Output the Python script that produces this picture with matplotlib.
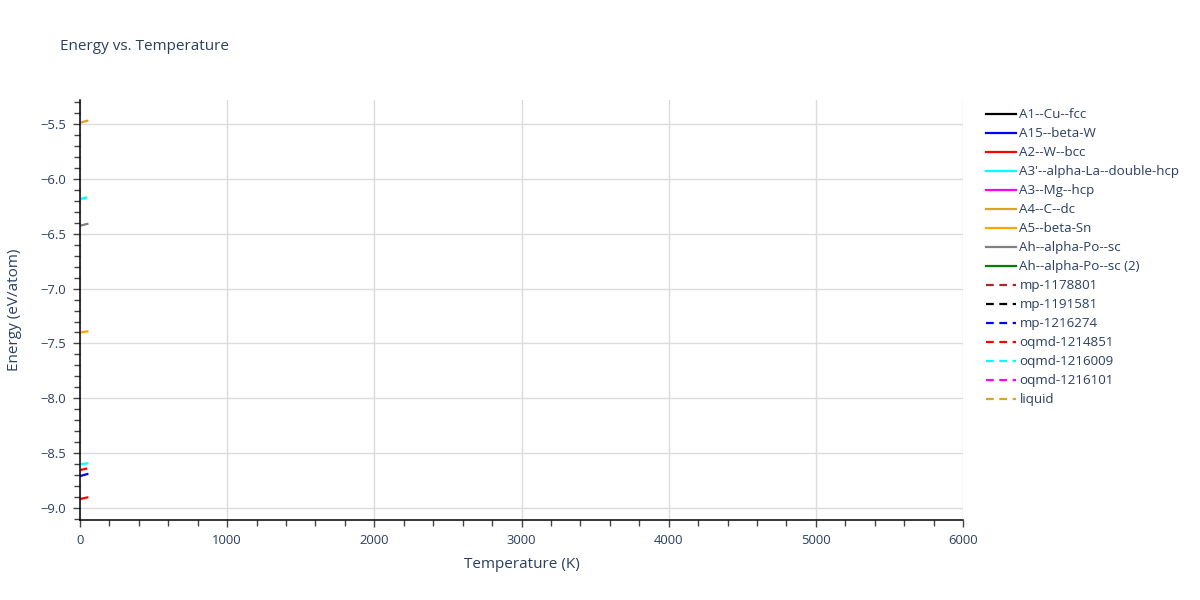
import matplotlib

matplotlib.use("Agg")
import matplotlib.pyplot as plt
from matplotlib.ticker import MultipleLocator

plt.rcParams["font.family"] = ["Open Sans", "DejaVu Sans"]

# series: name, colour, dashed, temperatures (K), energies (eV/atom)
names = [
    "A1--Cu--fcc", "A15--beta-W", "A2--W--bcc", "A3'--alpha-La--double-hcp",
    "A3--Mg--hcp", "A4--C--dc", "A5--beta-Sn", "Ah--alpha-Po--sc",
    "Ah--alpha-Po--sc (2)", "mp-1178801", "mp-1191581", "mp-1216274",
    "oqmd-1214851", "oqmd-1216009", "oqmd-1216101", "liquid",
]
colors = [
    "black", "blue", "red", "cyan", "magenta", "goldenrod", "orange", "gray",
    "green", "brown", "black", "blue", "red", "cyan", "magenta", "goldenrod",
]
dashed = [False] * 9 + [True] * 7

temps = [0, 50]
energies = {
    "A15--beta-W": [-8.709, -8.690],
    "A2--W--bcc": [-8.918, -8.903],
    "A3'--alpha-La--double-hcp": [-8.602, -8.593],
    "A4--C--dc": [-5.488, -5.470],
    "A5--beta-Sn": [-7.400, -7.390],
    "Ah--alpha-Po--sc": [-6.427, -6.410],
    "oqmd-1214851": [-8.654, -8.639],
    "oqmd-1216009": [-6.184, -6.168],
}

text_color = "#2a3f5f"

fig = plt.figure(figsize=(12, 6), dpi=100)
ax = fig.add_axes([80 / 1200, 80 / 600, 883 / 1200, 420 / 600])

for name, color, dash in zip(names, colors, dashed):
    e = energies.get(name, [])
    t = temps if e else []
    ax.plot(t, e, color=color, lw=1.6, linestyle=(0, (3.5, 2.5)) if dash else "-",
            label=name)

ax.set_xlim(0, 6000)
ax.set_ylim(-9.109, -5.281)
ax.xaxis.set_major_locator(MultipleLocator(1000))
ax.xaxis.set_minor_locator(MultipleLocator(200))
ax.yaxis.set_major_locator(MultipleLocator(0.5))
ax.yaxis.set_minor_locator(MultipleLocator(0.1))
ax.grid(True, which="major", color="#dcdcdc", lw=1)
ax.set_axisbelow(True)

for side in ("top", "right"):
    ax.spines[side].set_visible(False)
for side in ("left", "bottom"):
    ax.spines[side].set_color("black")
    ax.spines[side].set_linewidth(1.1)

ax.tick_params(which="both", direction="out", colors="#444444",
               labelcolor=text_color, labelsize=9.4, width=1)
ax.tick_params(which="major", length=5, pad=5)
ax.tick_params(which="minor", length=4)

ax.set_xlabel("Temperature (K)", fontsize=11, color=text_color, labelpad=7)
ax.set_ylabel("Energy (eV/atom)", fontsize=11, color=text_color, labelpad=13)
fig.text(60 / 1200, 1 - 46 / 600, "Energy vs. Temperature", fontsize=11,
         color=text_color, va="center", ha="left")

leg = ax.legend(loc="upper left", bbox_to_anchor=(981 / 883 - 80 / 883, 0.993),
                frameon=False, fontsize=9.6, handlelength=2.2, labelspacing=0.45,
                handletextpad=0.28, borderaxespad=0)
for txt in leg.get_texts():
    txt.set_color(text_color)

fig.savefig("out.png", dpi=100)
